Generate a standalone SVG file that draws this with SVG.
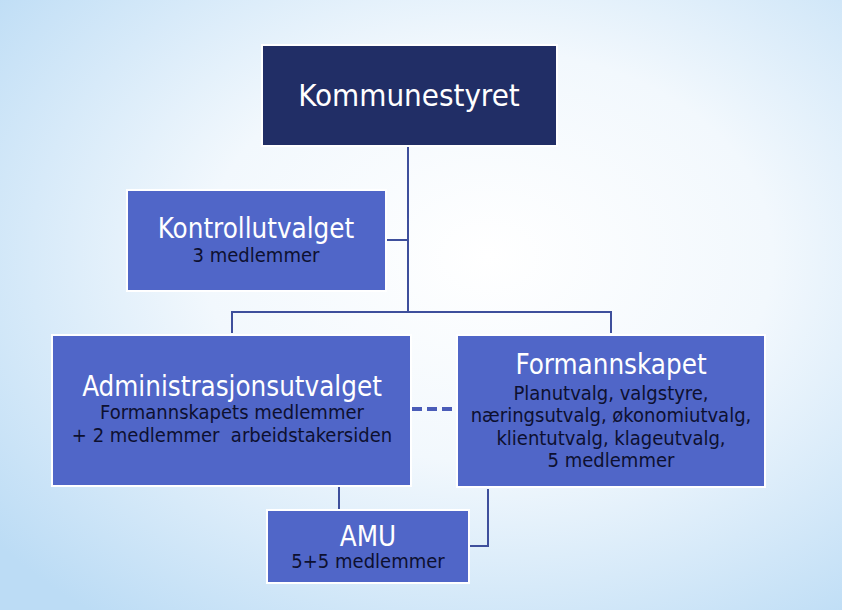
<svg xmlns="http://www.w3.org/2000/svg" width="842" height="610" viewBox="0 0 842 610">
<defs>
<radialGradient id="bg" cx="0.58" cy="0.42" r="0.75">
<stop offset="0" stop-color="#ffffff"/>
<stop offset="0.45" stop-color="#f2f8fd"/>
<stop offset="1" stop-color="#bcdcf5"/>
</radialGradient>
<style>
.box{fill:#5066c8;stroke:#ffffff;stroke-width:2}
.top{fill:#212e66;stroke:#ffffff;stroke-width:2}
.t{font-family:"DejaVu Sans Condensed","DejaVu Sans",sans-serif;text-anchor:middle;fill:#ffffff;font-size:27.5px}
.big{font-size:31px}
.s{font-family:"DejaVu Sans Condensed","DejaVu Sans",sans-serif;text-anchor:middle;fill:#0d1030;font-size:20px}
.c{fill:none;stroke:#3e4f9c;stroke-width:2}
.d{fill:none;stroke:#4a5cb8;stroke-width:4;stroke-dasharray:10,5}
</style>
</defs>
<rect width="842" height="610" fill="url(#bg)"/>
<g id="connectors">
<path class="c" d="M408,147 V312 M232,333 V312 H611 V333 M387,240 H408 M339,487 V510 M488,489 V546 H469"/>
<path class="d" d="M412,409 H456"/>
</g>
<g id="kommunestyret">
<rect class="top" x="262" y="45" width="295" height="101"/>
<text class="t big" x="409" y="106">Kommunestyret</text>
</g>
<g id="kontrollutvalget">
<rect class="box" x="127" y="190" width="259" height="101"/>
<text class="t" x="256" y="238">Kontrollutvalget</text>
<text class="s" x="256" y="262">3 medlemmer</text>
</g>
<g id="administrasjonsutvalget">
<rect class="box" x="52" y="335" width="359" height="151"/>
<text class="t" x="232" y="396">Administrasjonsutvalget</text>
<text class="s" x="232" y="419">Formannskapets medlemmer</text>
<text class="s" x="232" y="442" xml:space="preserve">+ 2 medlemmer  arbeidstakersiden</text>
</g>
<g id="formannskapet">
<rect class="box" x="457" y="335" width="308" height="152"/>
<text class="t" x="611" y="374">Formannskapet</text>
<text class="s" x="611" y="400">Planutvalg, valgstyre,</text>
<text class="s" x="611" y="422">næringsutvalg, økonomiutvalg,</text>
<text class="s" x="611" y="445">klientutvalg, klageutvalg,</text>
<text class="s" x="611" y="467">5 medlemmer</text>
</g>
<g id="amu">
<rect class="box" x="267" y="510" width="202" height="73"/>
<text class="t" x="368" y="546">AMU</text>
<text class="s" x="368" y="568">5+5 medlemmer</text>
</g>
</svg>
